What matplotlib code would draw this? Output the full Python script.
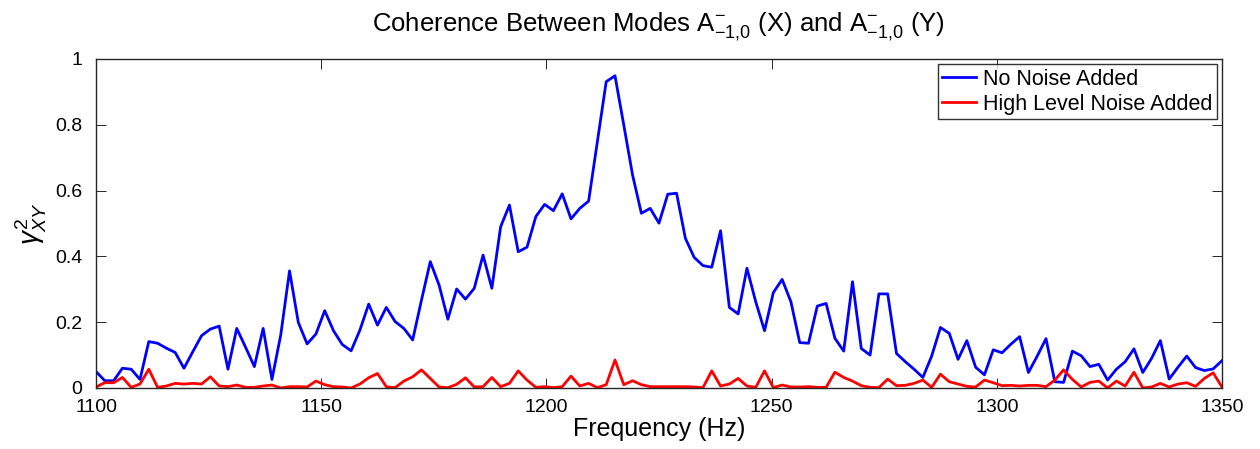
"""
Coherence between modes A-(-1,0) (X) and A-(-1,0) (Y)
"""

import numpy as np
import matplotlib
matplotlib.use("Agg")
import matplotlib.pyplot as plt

plt.rcParams['font.family'] = ['Liberation Sans', 'DejaVu Sans']
plt.rcParams['mathtext.fontset'] = 'custom'
plt.rcParams['mathtext.rm'] = 'Liberation Sans'
plt.rcParams['mathtext.it'] = 'Liberation Sans:italic'
plt.rcParams['mathtext.sf'] = 'Liberation Sans'

# frequency grid: 129 bins from 1100 to 1350 Hz
freq = np.linspace(1100, 1350, 129)

no_noise = [
    0.050, 0.022, 0.022, 0.060, 0.057, 0.026, 0.141, 0.136, 0.121, 0.108,
    0.060, 0.110, 0.159, 0.179, 0.188, 0.057, 0.181, 0.124, 0.065, 0.181,
    0.026, 0.161, 0.356, 0.199, 0.134, 0.164, 0.235, 0.174, 0.132, 0.113,
    0.176, 0.255, 0.191, 0.245, 0.202, 0.181, 0.146, 0.267, 0.384, 0.313,
    0.209, 0.301, 0.270, 0.303, 0.404, 0.303, 0.490, 0.556, 0.414, 0.428,
    0.521, 0.558, 0.539, 0.590, 0.514, 0.546, 0.568, 0.749, 0.931, 0.949,
    0.799, 0.647, 0.531, 0.546, 0.501, 0.589, 0.592, 0.455, 0.397, 0.372,
    0.367, 0.478, 0.245, 0.225, 0.364, 0.262, 0.174, 0.290, 0.330, 0.262,
    0.138, 0.136, 0.249, 0.257, 0.151, 0.112, 0.323, 0.120, 0.100, 0.286,
    0.286, 0.105, 0.080, 0.057, 0.032, 0.097, 0.184, 0.166, 0.087, 0.144,
    0.063, 0.040, 0.116, 0.107, 0.133, 0.156, 0.047, 0.097, 0.150, 0.019,
    0.017, 0.112, 0.098, 0.065, 0.072, 0.024, 0.057, 0.080, 0.119, 0.047,
    0.090, 0.144, 0.027, 0.063, 0.097, 0.062, 0.053, 0.058, 0.083,
]

high_noise = [
    0.003, 0.016, 0.016, 0.032, 0.002, 0.012, 0.057, 0.002, 0.006, 0.014,
    0.012, 0.014, 0.012, 0.034, 0.006, 0.004, 0.009, 0.002, 0.002, 0.006,
    0.009, 0.000, 0.004, 0.004, 0.003, 0.021, 0.010, 0.004, 0.003, 0.000,
    0.012, 0.031, 0.044, 0.004, 0.001, 0.021, 0.034, 0.055, 0.029, 0.003,
    0.001, 0.011, 0.031, 0.003, 0.004, 0.032, 0.004, 0.014, 0.052, 0.024,
    0.002, 0.004, 0.001, 0.004, 0.036, 0.006, 0.014, 0.001, 0.010, 0.085,
    0.010, 0.022, 0.010, 0.004, 0.004, 0.004, 0.004, 0.004, 0.003, 0.001,
    0.052, 0.006, 0.012, 0.029, 0.006, 0.002, 0.052, 0.001, 0.009, 0.003,
    0.003, 0.004, 0.002, 0.002, 0.048, 0.032, 0.021, 0.007, 0.002, 0.001,
    0.027, 0.007, 0.008, 0.014, 0.024, 0.002, 0.042, 0.019, 0.012, 0.005,
    0.003, 0.024, 0.016, 0.007, 0.008, 0.006, 0.008, 0.008, 0.004, 0.024,
    0.055, 0.026, 0.003, 0.017, 0.021, 0.000, 0.021, 0.006, 0.048, 0.000,
    0.003, 0.014, 0.003, 0.012, 0.016, 0.005, 0.029, 0.046, 0.003,
]

xticks = [1100, 1150, 1200, 1250, 1300, 1350]
yticks = [0, 0.2, 0.4, 0.6, 0.8, 1]
ytick_labels = ["0", "0.2", "0.4", "0.6", "0.8", "1"]


def plot():
    fig = plt.figure(figsize=(12.6, 4.49), dpi=100)
    ax = fig.add_axes([0.0762, 0.1359, 0.8936, 0.7327])

    ax.plot(freq, no_noise, color="#0000ff", linewidth=2.0, label="No Noise Added")
    ax.plot(freq, high_noise, color="#ff0000", linewidth=2.0, label="High Level Noise Added")

    ax.set_xlim(1100, 1350)
    ax.set_ylim(0, 1)
    ax.set_xticks(xticks)
    ax.set_yticks(yticks)
    ax.set_yticklabels(ytick_labels)
    ax.tick_params(direction="in", top=True, right=True, length=7, width=0.7,
                   labelsize=14, colors="#262626", labelcolor="black")
    ax.tick_params(axis="y", pad=10)
    ax.tick_params(axis="x", pad=8)
    for sp in ax.spines.values():
        sp.set_linewidth(1.0)
        sp.set_color("#262626")

    ax.set_xlabel("Frequency (Hz)", fontsize=18, labelpad=1)
    ax.set_ylabel(r"$\gamma^2_{XY}$", fontsize=20, labelpad=4)
    ax.set_title(r"Coherence Between Modes A$^{-}_{-1{,}0}$ (X) and A$^{-}_{-1{,}0}$ (Y)",
                 fontsize=18.5, pad=20)

    leg = ax.legend(loc="upper right", fontsize=15.5, frameon=True, fancybox=False,
                    borderaxespad=0.25, handlelength=1.6, handletextpad=0.3,
                    borderpad=0.2, labelspacing=0.2)
    leg.get_frame().set_edgecolor("black")
    leg.get_frame().set_linewidth(1.0)

    fig.savefig("out.png", dpi=100)


def main():
    plot()


if __name__ == "__main__":
    main()
